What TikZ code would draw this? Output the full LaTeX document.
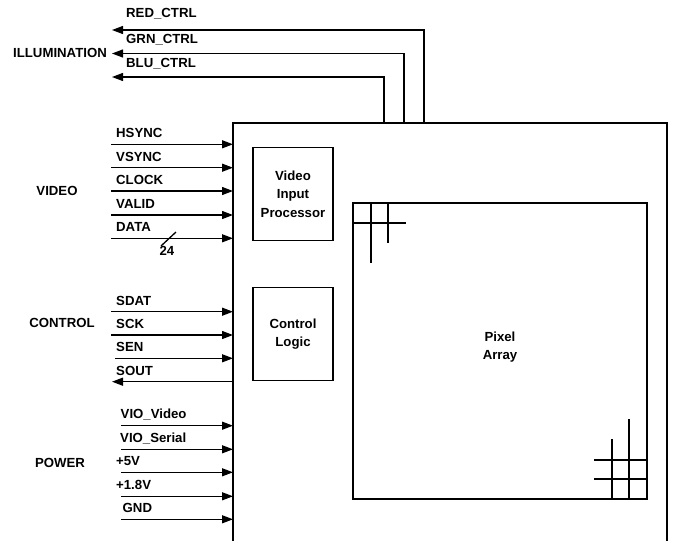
\documentclass[tikz,border=0pt]{standalone}
\usepackage{fontspec}
\setmainfont{Liberation Sans}
\usetikzlibrary{arrows.meta}
\begin{document}
\begin{tikzpicture}[x=1pt,y=-1pt,
  every node/.style={font=\bfseries\fontsize{13.2}{18.5}\selectfont, inner sep=0pt},
  lbl/.style={anchor=west},
  grp/.style={anchor=center},
  blk/.style={draw, line width=1.3pt, align=center},
  sig/.style={line width=1.3pt, -{Triangle[length=11pt,width=8pt]}},
  fb/.style={line width=1.3pt},
  grid/.style={line width=1.3pt}]
\useasboundingbox (0,0) rectangle (673,541);
% main chip outline (open at bottom)
\coordinate (mbl) at (233,541);
\coordinate (mtl) at (233,123);
\coordinate (mtr) at (667,123);
\coordinate (mbr) at (667,541);
\draw[fb] (mbl) -- (mtl) -- (mtr) -- (mbr);
% inner blocks
\node[blk, minimum width=80pt, minimum height=93pt] (vip) at (293,194) {Video\\Input\\Processor};
\node[blk, minimum width=80pt, minimum height=93pt] (ctl) at (293,334) {Control\\Logic};
\node[blk, minimum width=294pt, minimum height=296pt] (pix) at (500,351) {};
\node (pixt) at (500,347) [align=center] {Pixel\\Array};
% grid marks in pixel array
\coordinate (g1a) at (353,223); \coordinate (g1b) at (406,223);
\coordinate (g2a) at (371,203); \coordinate (g2b) at (371,263);
\coordinate (g3a) at (388,203); \coordinate (g3b) at (388,243);
\draw[grid] (g1a) -- (g1b) (g2a) -- (g2b) (g3a) -- (g3b);
\coordinate (h1a) at (594,460); \coordinate (h1b) at (647,460);
\coordinate (h2a) at (594,479); \coordinate (h2b) at (647,479);
\coordinate (v1a) at (612,439); \coordinate (v1b) at (612,499);
\coordinate (v2a) at (629,419); \coordinate (v2b) at (629,499);
\draw[grid] (h1a) -- (h1b) (h2a) -- (h2b) (v1a) -- (v1b) (v2a) -- (v2b);
% ILLUMINATION
\node[anchor=east] (illum) at (107,53) {ILLUMINATION};
\coordinate (rs) at (424,123); \coordinate (rt) at (112,30);
\coordinate (gs) at (404,123); \coordinate (gt) at (112,53.5);
\coordinate (bs) at (384,123); \coordinate (bt) at (112,77);
\draw[sig] (rs) |- (rt);
\draw[sig] (gs) |- (gt);
\draw[sig] (bs) |- (bt);
\node[lbl] (red) at (126,14) {RED\_CTRL};
\node[lbl] (grn) at (126,40) {GRN\_CTRL};
\node[lbl] (blu) at (126,63.5) {BLU\_CTRL};
% VIDEO
\node[grp] (video) at (57,191) {VIDEO};
\foreach \n/\t/\y in {hs/HSYNC/144.3, vs/VSYNC/167.7, ck/CLOCK/191, va/VALID/215, da/DATA/238.3}{
  \coordinate (\n s) at (111,\y);
  \coordinate (\n e) at (233,\y);
  \draw[sig] (\n s) -- (\n e);
  \node[lbl] (\n l) at (116,\y-11) {\t};
}
\coordinate (sl1) at (161,246); \coordinate (sl2) at (176,232);
\draw[fb] (sl1) -- (sl2);
\node (bus) at (167,251) {24};
% CONTROL
\node[grp] (control) at (62,323) {CONTROL};
\foreach \n/\t/\y/\x in {sd/SDAT/311.7/111, sc/SCK/335/111, se/SEN/358.3/115}{
  \coordinate (\n s) at (\x,\y);
  \coordinate (\n e) at (233,\y);
  \draw[sig] (\n s) -- (\n e);
  \node[lbl] (\n l) at (116,\y-11) {\t};
}
\coordinate (sos) at (233,381.7); \coordinate (soe) at (112,381.7);
\draw[sig] (sos) -- (soe);
\node[lbl] (sol) at (116,370.5) {SOUT};
% POWER
\node[grp] (power) at (60,463) {POWER};
\foreach \n/\t/\y/\lx in {vv/VIO\_Video/425.7/120.5, vr/VIO\_Serial/449.3/120, p5/+5V/472.3/116, p18/+1.8V/496.3/116, gn/GND/519.3/122.5}{
  \coordinate (\n s) at (121,\y);
  \coordinate (\n e) at (233,\y);
  \draw[sig] (\n s) -- (\n e);
  \node[lbl] (\n l) at (\lx,\y-11) {\t};
}
\end{tikzpicture}
\end{document}
